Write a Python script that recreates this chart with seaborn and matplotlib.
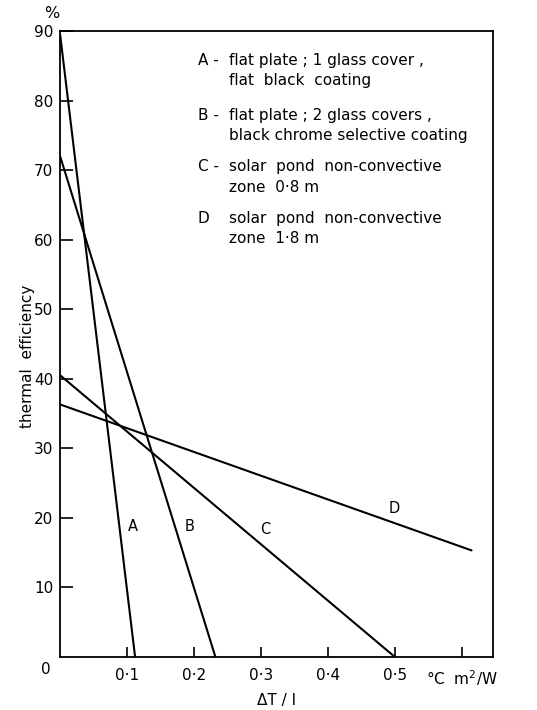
import pandas as pd
import matplotlib.pyplot as plt
import seaborn as sns

# --- data ---
curves = ['A', 'B', 'C', 'D']
x_start = [0.0, 0.0, 0.0, 0.0]
y_start = [89.5, 72.0, 40.5, 36.3]
x_end = [0.112, 0.232, 0.5, 0.615]
y_end = [0.0, 0.0, 0.0, 15.3]

# curve tag positions (x, y)
tag_x = [0.108, 0.193, 0.306, 0.5]
tag_y = [18.7, 18.7, 18.3, 21.3]

legend_lines = [
    ('A -', 'flat plate ; 1 glass cover ,', 'flat  black  coating'),
    ('B -', 'flat plate ; 2 glass covers ,', 'black chrome selective coating'),
    ('C -', 'solar  pond  non-convective', 'zone  0·8 m'),
    ('D', 'solar  pond  non-convective', 'zone  1·8 m'),
]
legend_y = [0.954, 0.866, 0.783, 0.701]

x_ticks = [0.1, 0.2, 0.3, 0.4, 0.5, 0.6]
x_ticklabels = ['0·1', '0·2', '0·3', '0·4', '0·5', '°C  m$^2$/W']
y_ticks = [10, 20, 30, 40, 50, 60, 70, 80, 90]

df = pd.DataFrame({
    'curve': curves + curves,
    'x': x_start + x_end,
    'y': y_start + y_end,
})

sns.set_style('ticks')
plt.rcParams['font.family'] = ['DejaVu Sans']
plt.rcParams['text.color'] = 'black'
plt.rcParams['axes.labelcolor'] = 'black'

fig = plt.figure(figsize=(5.37, 7.10), dpi=100)
ax = fig.add_axes([0.112, 0.075, 0.806, 0.881])

sns.lineplot(data=df, x='x', y='y', units='curve', estimator=None,
             color='black', linewidth=1.5, ax=ax, legend=False)

for c, tx, ty in zip(curves, tag_x, tag_y):
    ax.text(tx, ty, c, ha='center', va='center', fontsize=10.5, color='black',
            bbox=dict(facecolor='white', edgecolor='none', pad=0.5))

ax.set_xlim(0, 0.647)
ax.set_ylim(0, 90)
ax.set_xticks(x_ticks)
ax.set_xticklabels(x_ticklabels)
ax.set_yticks(y_ticks)
ax.tick_params(axis='both', direction='in', width=1.2,
               labelsize=11, color='black', labelcolor='black',
               bottom=True, left=True, top=False, right=False)
ax.tick_params(axis='x', pad=8, length=7.5)
ax.tick_params(axis='y', pad=5, length=9)
for s in ax.spines.values():
    s.set_visible(True)
    s.set_color('black')
    s.set_linewidth(1.3)

ax.set_xlabel('ΔT / I', fontsize=11, labelpad=4)
ax.set_ylabel('thermal  efficiency', fontsize=11)
ax.yaxis.set_label_coords(-0.058, 0.48)

# origin and unit labels
ax.text(-0.014, -0.8, '0', ha='right', va='top', fontsize=11)
ax.text(-0.012, 92.6, '%', ha='center', va='center', fontsize=11.5)

# legend block
for (k, l1, l2), yy in zip(legend_lines, legend_y):
    ax.text(0.318, yy, k, transform=ax.transAxes, fontsize=11, va='center')
    ax.text(0.39, yy, l1, transform=ax.transAxes, fontsize=11, va='center')
    ax.text(0.39, yy - 0.033, l2, transform=ax.transAxes, fontsize=11, va='center')

plt.savefig('out.png', dpi=100)
